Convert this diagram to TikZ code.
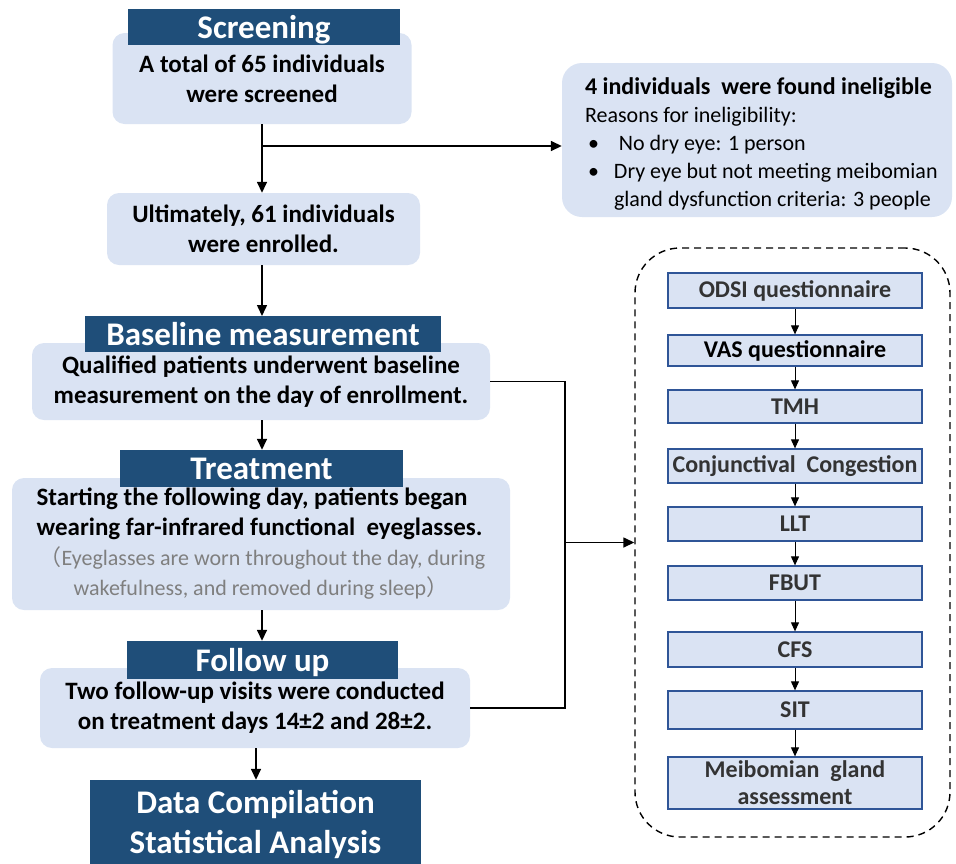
\documentclass[tikz,border=0pt]{standalone}
\usepackage{fontspec}
\setmainfont{Carlito}
\newfontfamily\cjk{Noto Sans CJK SC}
\usepackage{tikz}
\usetikzlibrary{arrows.meta,shapes,positioning,calc}
\usepackage{xcolor}

\definecolor{headblue}{HTML}{1F4E79}
\definecolor{boxblue}{HTML}{DAE3F3}
\definecolor{lineblue}{HTML}{2F5597}
\definecolor{notegray}{HTML}{7F7F7F}
\definecolor{darktext}{HTML}{333333}

\tikzset{
  stage/.style={fill=boxblue, rounded corners=12pt, align=center, inner sep=0pt,
    font=\bfseries\fontsize{25}{30}\selectfont},
  header/.style={fill=headblue, text=white, inner sep=0pt, align=center, text depth=0pt,
    font=\bfseries\fontsize{33}{40}\selectfont},
  measure/.style={draw=lineblue, line width=1.3pt, fill=boxblue, minimum width=254pt,
    inner sep=0pt, align=center, text=darktext, font=\bfseries\fontsize{24}{27}\selectfont},
  flow/.style={-{Triangle[length=11pt,width=10pt]}, line width=1.5pt},
  smallflow/.style={-{Triangle[length=9pt,width=8pt]}, line width=1pt},
}

\begin{document}
\begin{tikzpicture}[x=1pt, y=-1pt]
    \useasboundingbox (0,0) rectangle (956,863);

    % Screening
    \node[stage, minimum width=299pt, minimum height=91pt] (screen) at (262,78.5) {A total of 65 individuals\\were screened};
    \node[header, minimum width=272pt, minimum height=36pt] (screenhead) at (264,27) {Screening};

    % Ineligible
    \node[fill=boxblue, rounded corners=20pt, minimum width=390pt, minimum height=154pt] (inel) at (757,140) {};
    \node[anchor=west, align=left, inner sep=0pt, font=\fontsize{22}{28}\selectfont] (ineltext) at ([xshift=23pt,yshift=-4pt]inel.west)
      {{\bfseries\fontsize{24}{28}\selectfont 4 individuals\ \ were found ineligible}\\
       Reasons for ineligibility:\\
       \makebox[29pt][l]{\hspace*{3pt}•}\ No dry eye: 1 person\\
       \makebox[29pt][l]{\hspace*{3pt}•}Dry eye but not meeting meibomian\\
       \hspace*{29pt}gland dysfunction criteria: 3 people};

    % Enrolled
    \node[stage, minimum width=313pt, minimum height=72pt] (enrol) at (263.5,229) {Ultimately, 61 individuals\\were enrolled.};

    % Baseline measurement
    \node[stage, minimum width=458pt, minimum height=77pt] (base) at (261,381.5) {Qualified patients underwent baseline\\measurement on the day of enrollment.};
    \node[header, minimum width=356pt, minimum height=36pt] (basehead) at (263,334) {Baseline measurement};

    % Treatment
    \node[stage, minimum width=498pt, minimum height=132pt, align=left] (treat) at (261,544)
      {Starting the following day, patients began\\
       wearing far-infrared functional\ \ eyeglasses.\\
       {\mdseries\color{notegray}\fontsize{22}{28}\selectfont\hspace*{3pt}{\cjk（}Eyeglasses are worn throughout the day, during}\\
       {\mdseries\color{notegray}\fontsize{22}{28}\selectfont\hspace*{37pt}wakefulness, and removed during sleep{\cjk）}}};
    \node[header, minimum width=283pt, minimum height=37pt] (treathead) at (261.5,468.5) {Treatment};

    % Follow up
    \node[stage, minimum width=430pt, minimum height=80pt] (follow) at (255,708) {Two follow-up visits were conducted\\on treatment days 14±2 and 28±2.};
    \node[header, minimum width=271pt, minimum height=38pt] (followhead) at (262.5,660) {Follow up};

    % Data analysis
    \node[header, minimum width=331pt, minimum height=84pt] (data) at (255.5,822) {Data Compilation\\Statistical Analysis};

    % Main arrows
    \coordinate (split) at (262,146);
    \draw[flow] (screen.south) -- (enrol.north -| screen.south);
    \draw[flow] (split) -- (split -| inel.west);
    \draw[flow] (262,265) -- (262,316);
    \draw[flow] (base.south -| 262,0) -- (treathead.north -| 262,0);
    \draw[flow] (treat.south -| 262,0) -- (followhead.north -| 262,0);
    \draw[flow] (follow.south -| 256,0) -- (data.north -| 256,0);

    % Assessments group
    \node[draw, dashed, dash pattern=on 7pt off 5pt, line width=1.4pt, rounded corners=45pt,
          minimum width=315pt, minimum height=589pt] (tests) at (792.5,542.5) {};
    \coordinate (junction) at (565,542.5);
    \draw[line width=1.5pt] (base.east) -| (junction) |- (follow.east);
    \draw[flow] (junction) -- (tests.west);

    % Assessment steps
    \node[measure, minimum height=35pt] (odsi) at (795,290.5) {ODSI questionnaire};
    \node[measure, minimum height=31pt, text=black] (vas) at (795,350.5) {VAS questionnaire};
    \node[measure, minimum height=33pt] (tmh) at (795,406.5) {TMH};
    \node[measure, minimum height=34pt] (conj) at (795,466) {Conjunctival\ \ Congestion};
    \node[measure, minimum height=34pt] (llt) at (795,524) {LLT};
    \node[measure, minimum height=34pt] (fbut) at (795,583) {FBUT};
    \node[measure, minimum height=35pt] (cfs) at (795,649.5) {CFS};
    \node[measure, minimum height=38pt] (sit) at (795,710) {SIT};
    \node[measure, minimum height=52pt] (meib) at (795,783) {Meibomian\ \ gland\\assessment};

    \draw[smallflow] (odsi) -- (vas);
    \draw[smallflow] (vas) -- (tmh);
    \draw[smallflow] (tmh) -- (conj);
    \draw[smallflow] (conj) -- (llt);
    \draw[smallflow] (llt) -- (fbut);
    \draw[smallflow] (fbut) -- (cfs);
    \draw[smallflow] (cfs) -- (sit);
    \draw[smallflow] (sit) -- (meib);
\end{tikzpicture}
\end{document}
